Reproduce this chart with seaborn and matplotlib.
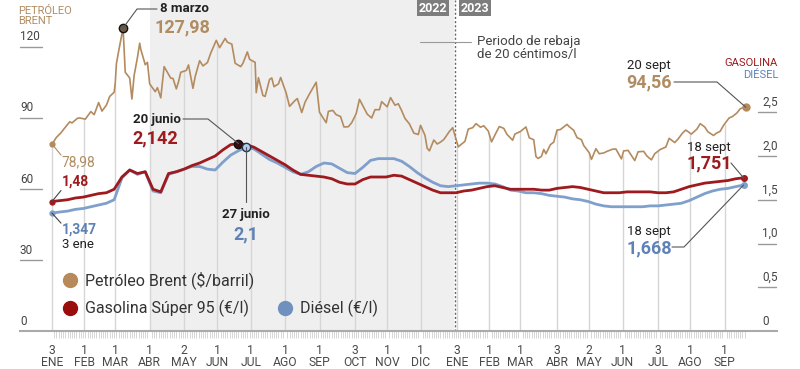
import numpy as np
import pandas as pd
import matplotlib
matplotlib.use("Agg")
import matplotlib.pyplot as plt
import matplotlib.dates as mdates
import matplotlib.transforms as mtransforms
from matplotlib.lines import Line2D
import seaborn as sns

sns.set_theme(style="white")
plt.rcParams["font.family"] = ["Roboto", "DejaVu Sans"]

# ---------------- DATA ----------------
brent_dates = [
    "2022-01-03", "2022-01-07", "2022-01-11", "2022-01-14", "2022-01-19", "2022-01-21", "2022-01-26", "2022-01-28",
    "2022-02-02", "2022-02-07", "2022-02-10", "2022-02-14", "2022-02-17", "2022-02-21", "2022-02-24", "2022-02-28",
    "2022-03-01", "2022-03-02", "2022-03-04", "2022-03-08", "2022-03-10", "2022-03-14", "2022-03-16", "2022-03-18",
    "2022-03-21", "2022-03-23", "2022-03-24", "2022-03-28", "2022-03-30", "2022-04-01", "2022-04-06", "2022-04-08",
    "2022-04-11", "2022-04-14", "2022-04-20", "2022-04-22", "2022-04-25", "2022-04-27", "2022-04-29", "2022-05-04",
    "2022-05-06", "2022-05-10", "2022-05-12", "2022-05-16", "2022-05-19", "2022-05-23", "2022-05-26", "2022-05-31",
    "2022-06-03", "2022-06-08", "2022-06-10", "2022-06-14", "2022-06-17", "2022-06-22", "2022-06-24", "2022-06-28",
    "2022-06-30", "2022-07-05", "2022-07-06", "2022-07-08", "2022-07-12", "2022-07-14", "2022-07-18", "2022-07-20",
    "2022-07-22", "2022-07-26", "2022-07-28", "2022-08-02", "2022-08-05", "2022-08-10", "2022-08-12", "2022-08-16",
    "2022-08-19", "2022-08-23", "2022-08-29", "2022-09-01", "2022-09-07", "2022-09-09", "2022-09-13", "2022-09-16",
    "2022-09-20", "2022-09-23", "2022-09-27", "2022-09-30", "2022-10-04", "2022-10-07", "2022-10-11", "2022-10-14",
    "2022-10-18", "2022-10-21", "2022-10-25", "2022-10-27", "2022-11-01", "2022-11-04", "2022-11-08", "2022-11-11",
    "2022-11-14", "2022-11-17", "2022-11-21", "2022-11-25", "2022-11-29", "2022-12-01", "2022-12-05", "2022-12-07",
    "2022-12-09", "2022-12-13", "2022-12-16", "2022-12-19", "2022-12-22", "2022-12-27", "2022-12-30",
    "2023-01-04", "2023-01-06", "2023-01-10", "2023-01-13", "2023-01-17", "2023-01-20", "2023-01-24", "2023-01-27",
    "2023-01-31", "2023-02-03", "2023-02-07", "2023-02-10", "2023-02-14", "2023-02-17", "2023-02-22", "2023-02-24",
    "2023-03-01", "2023-03-06", "2023-03-09", "2023-03-13", "2023-03-15", "2023-03-17", "2023-03-20", "2023-03-22",
    "2023-03-24", "2023-03-28", "2023-03-31", "2023-04-03", "2023-04-06", "2023-04-12", "2023-04-14", "2023-04-18",
    "2023-04-21", "2023-04-25", "2023-04-27", "2023-05-02", "2023-05-04", "2023-05-08", "2023-05-11", "2023-05-15",
    "2023-05-18", "2023-05-23", "2023-05-26", "2023-05-31", "2023-06-02", "2023-06-06", "2023-06-12", "2023-06-15",
    "2023-06-20", "2023-06-23", "2023-06-27", "2023-06-30", "2023-07-05", "2023-07-10", "2023-07-13", "2023-07-18",
    "2023-07-21", "2023-07-25", "2023-07-28", "2023-08-02", "2023-08-07", "2023-08-10", "2023-08-14", "2023-08-17",
    "2023-08-22", "2023-08-24", "2023-08-28", "2023-08-31", "2023-09-05", "2023-09-08", "2023-09-12", "2023-09-15",
    "2023-09-18", "2023-09-19", "2023-09-20",
]
brent_values = [
    78.98, 81.8, 83.7, 85.5, 88.4, 87.9, 89.9, 90.0,
    89.5, 92.7, 91.4, 96.5, 92.9, 95.4, 99.1, 100.9,
    104.9, 112.9, 118.1, 127.98, 109.3, 106.9, 98.0, 108.0,
    115.6, 121.6, 119.0, 112.5, 113.5, 104.4, 101.1, 102.8,
    98.5, 111.7, 106.8, 106.7, 102.3, 105.3, 109.3, 110.1,
    112.4, 102.5, 107.5, 114.2, 112.0, 113.4, 117.4, 122.8,
    119.7, 123.6, 122.0, 121.2, 113.1, 111.7, 113.1, 117.9,
    114.8, 113.5, 100.7, 107.0, 99.5, 99.1, 106.3, 106.9,
    103.2, 104.4, 107.1, 100.5, 94.9, 97.4, 98.2, 92.3,
    96.7, 100.2, 105.1, 92.4, 88.0, 92.8, 93.2, 91.4,
    90.6, 86.2, 86.3, 88.0, 91.8, 97.9, 94.3, 91.6,
    90.0, 93.5, 93.5, 96.9, 94.7, 98.6, 95.4, 96.0,
    93.1, 89.8, 87.5, 83.6, 83.0, 86.9, 82.7, 77.2,
    76.1, 80.7, 79.0, 79.8, 80.9, 84.3, 85.9,
    77.8, 78.6, 80.1, 85.3, 85.9, 87.6, 86.1, 86.7,
    84.5, 79.9, 83.7, 86.4, 85.6, 83.0, 80.6, 83.2,
    84.3, 86.2, 81.6, 80.8, 73.7, 72.9, 73.8, 76.7,
    74.9, 78.7, 79.8, 84.9, 85.1, 87.3, 86.3, 84.8,
    81.7, 80.8, 78.4, 75.3, 72.5, 77.0, 74.9, 75.2,
    75.9, 76.8, 76.9, 72.7, 76.1, 76.3, 72.0, 75.7,
    75.9, 73.9, 72.3, 74.9, 76.7, 77.7, 81.4, 79.6,
    81.1, 83.6, 84.9, 83.2, 85.3, 87.6, 86.2, 84.1,
    82.6, 83.4, 84.4, 86.9, 90.0, 90.6, 92.1, 93.9,
    94.4, 95.4, 94.56,
]

# weekly fuel prices (Mondays, 2022-01-03 ... 2023-09-18)
fuel_dates = pd.date_range("2022-01-03", periods=90, freq="7D")
gasolina_values = [
    1.480, 1.49, 1.50, 1.52, 1.53,
    1.55, 1.57, 1.58, 1.62,
    1.76, 1.84, 1.80, 1.82,
    1.62, 1.59, 1.80, 1.82,
    1.85, 1.89, 1.92, 1.96, 2.00,
    2.07, 2.13, 2.142, 2.13,
    2.10, 2.05, 2.00, 1.95,
    1.90, 1.84, 1.79, 1.78, 1.77,
    1.76, 1.74, 1.70, 1.68,
    1.68, 1.73, 1.76, 1.76, 1.76,
    1.78, 1.77, 1.73, 1.69,
    1.65, 1.61, 1.58, 1.58,
    1.58, 1.60, 1.61, 1.63, 1.65,
    1.66, 1.64, 1.62, 1.62,
    1.62, 1.62, 1.61, 1.61,
    1.63, 1.64, 1.65, 1.64,
    1.62, 1.60, 1.58, 1.58, 1.58,
    1.59, 1.59, 1.59, 1.59,
    1.58, 1.58, 1.59, 1.62, 1.65,
    1.67, 1.69, 1.70, 1.71,
    1.72, 1.74, 1.751,
]
diesel_values = [
    1.347, 1.36, 1.37, 1.39, 1.40,
    1.42, 1.44, 1.46, 1.50,
    1.75, 1.84, 1.79, 1.82,
    1.60, 1.58, 1.79, 1.82,
    1.85, 1.88, 1.88, 1.85, 1.84,
    1.93, 2.01, 2.06, 2.10,
    2.08, 2.02, 1.96, 1.92,
    1.87, 1.82, 1.79, 1.82, 1.88,
    1.92, 1.91, 1.86, 1.81,
    1.80, 1.87, 1.95, 1.97, 1.97,
    1.97, 1.94, 1.88, 1.81,
    1.75, 1.70, 1.66, 1.65,
    1.66, 1.67, 1.68, 1.69, 1.69,
    1.68, 1.65, 1.61, 1.60,
    1.58, 1.58, 1.57, 1.55,
    1.54, 1.53, 1.51, 1.50,
    1.48, 1.45, 1.43, 1.42, 1.42,
    1.42, 1.42, 1.42, 1.43,
    1.43, 1.44, 1.45, 1.46, 1.49,
    1.53, 1.57, 1.60, 1.62,
    1.63, 1.65, 1.668,
]

tick_dates = ["2022-01-03", "2022-02-01", "2022-03-01", "2022-04-01", "2022-05-02", "2022-06-01",
              "2022-07-01", "2022-08-01", "2022-09-01", "2022-10-03", "2022-11-01", "2022-12-01",
              "2023-01-03", "2023-02-01", "2023-03-01", "2023-04-03", "2023-05-02", "2023-06-01",
              "2023-07-03", "2023-08-01", "2023-09-01"]
tick_days = ["3", "1", "1", "1", "2", "1", "1", "1", "1", "3", "1", "1",
             "3", "1", "1", "3", "2", "1", "3", "1", "1"]
tick_months = ["ENE", "FEB", "MAR", "ABR", "MAY", "JUN", "JUL", "AGO", "SEP", "OCT", "NOV", "DIC",
               "ENE", "FEB", "MAR", "ABR", "MAY", "JUN", "JUL", "AGO", "SEP"]

brent_ticks = [0, 30, 60, 90, 120]
brent_tick_labels = ["0", "30", "60", "90", "120"]
fuel_ticks = [0, 0.5, 1.0, 1.5, 2.0, 2.5]
fuel_tick_labels = ["0", "0,5", "1,0", "1,5", "2,0", "2,5"]

series_names = ["Petróleo Brent ($/barril)", "Gasolina Súper 95 (€/l)", "Diésel (€/l)"]

rebaja_start, rebaja_end = "2022-04-01", "2022-12-31"
year_split = "2023-01-01"

# ---------------- STYLE ----------------
C_BRENT = "#b38b5f"
C_BRENT_TXT = "#b08c62"
C_GAS = "#9e1a1e"
C_DIE = "#7f9fcc"
C_DIE_TXT = "#5f82b6"
C_DARK = "#222222"

W, H = 800, 369
PX_PER_DAY = 1.11
fig = plt.figure(figsize=(W / 100, H / 100), dpi=100)
fig.patch.set_facecolor("white")
ax = fig.add_axes([20 / W, 38 / H, 757 / W, 331 / H])
ax2 = ax.twinx()

brent_df = pd.DataFrame({"fecha": pd.to_datetime(brent_dates), "valor": brent_values})
gas_df = pd.DataFrame({"fecha": fuel_dates, "valor": gasolina_values})
die_df = pd.DataFrame({"fecha": fuel_dates, "valor": diesel_values})

t0 = pd.Timestamp("2022-01-03")
xmin = t0 - pd.Timedelta(days=32 / PX_PER_DAY)
xmax = t0 + pd.Timedelta(days=725 / PX_PER_DAY)

# background period
ax.axvspan(pd.Timestamp(rebaja_start), pd.Timestamp(rebaja_end), color="#efefef", zorder=0, lw=0)

# vertical drop lines at month ticks up to brent
tk = pd.to_datetime(tick_dates)
bx = mdates.date2num(brent_df["fecha"])
tx = mdates.date2num(tk)
ax.vlines(tk, 0, np.interp(tx, bx, brent_df["valor"]), color="#d6d6d6", lw=1, zorder=1)

sns.lineplot(data=brent_df, x="fecha", y="valor", ax=ax, color=C_BRENT, lw=1.2, zorder=3)
sns.lineplot(data=die_df, x="fecha", y="valor", ax=ax2, color=C_DIE, lw=2, zorder=3)
sns.lineplot(data=gas_df, x="fecha", y="valor", ax=ax2, color=C_GAS, lw=2, zorder=4)

ax.axvline(pd.Timestamp(year_split), color="#666666", lw=1, ls=(0, (1.5, 1.5)), zorder=2)

ax.set_xlim(xmin, xmax)
ax.set_ylim(0, 331 / 2.367)
ax2.set_ylim(0, 331 / 87.5)

for a in (ax, ax2):
    a.set_xlabel("")
    a.set_ylabel("")
    for s in a.spines.values():
        s.set_visible(False)
    a.tick_params(left=False, right=False, labelleft=False, labelright=False)
ax.spines["bottom"].set_visible(True)
ax.spines["bottom"].set_color("#aaaaaa")
ax.spines["bottom"].set_linewidth(1.5)

ax.set_xticks(tk)
ax.set_xticklabels([f"{d}\n{m}" for d, m in zip(tick_days, tick_months)])
ax.set_xticks(pd.date_range(brent_dates[0], brent_dates[-1], freq="2D"), minor=True)
ax.tick_params(axis="x", which="major", length=0, pad=9, labelsize=8.7, labelcolor="#4a4a4a")
ax.tick_params(axis="x", which="minor", length=5, width=0.6, color="#d0d0d0", direction="out", bottom=True)
for lbl in ax.get_xticklabels():
    lbl.set_linespacing(0.95)

# y tick labels (custom, with underline)
tl = mtransforms.blended_transform_factory(ax.transAxes, ax.transData)
for v, s in zip(brent_ticks, brent_tick_labels):
    if v > 0:
        ax.plot([0, 22 / 757], [v, v], transform=tl, color="#999999", lw=1, clip_on=False)
    ax.annotate(s, (0, v), xycoords=tl, xytext=(0, 2.5), textcoords="offset points",
                fontsize=8.5, color="#444444", va="bottom", ha="left")
tr = mtransforms.blended_transform_factory(ax2.transAxes, ax2.transData)
for v, s in zip(fuel_ticks, fuel_tick_labels):
    if v > 0:
        ax2.plot([738 / 757, 756 / 757], [v, v], transform=tr, color="#999999", lw=1, clip_on=False)
    ax2.annotate(s, (742 / 757, v), xycoords=tr, xytext=(0, 2.5), textcoords="offset points",
                 fontsize=8.5, color="#444444", va="bottom", ha="left")


# ---------------- helpers ----------------
def dpx(a, d, v):
    x, y = a.transData.transform((mdates.date2num(pd.Timestamp(d)), v))
    return x, H - y


def ftext(x, y, s, **kw):
    fig.text(x / W, 1 - y / H, s, **kw)


def fline(pts, color="#555555", lw=0.8):
    fig.add_artist(Line2D([p[0] / W for p in pts], [1 - p[1] / H for p in pts],
                          transform=fig.transFigure, color=color, lw=lw, zorder=6))


def dot(a, d, v, face, edge, ms):
    a.plot([pd.Timestamp(d)], [v], marker="o", ms=ms, mfc=face, mec=edge, mew=1, zorder=7, clip_on=False)


# year boxes
ftext(433, 8, "2022", ha="center", va="center", fontsize=9, color="white", fontweight="bold",
      bbox=dict(boxstyle="square,pad=0.15", fc="#7d7d7d", ec="none"))
ftext(475, 8, "2023", ha="center", va="center", fontsize=9, color="white", fontweight="bold",
      bbox=dict(boxstyle="square,pad=0.15", fc="#7d7d7d", ec="none"))

# rebaja annotation
fline([(420, 42), (471, 42)], color="#999999", lw=0.8)
ftext(477, 48, "Periodo de rebaja\nde 20 céntimos/l", ha="left", va="center", fontsize=9.5,
      color="#444444", linespacing=1.0)

# axis titles
ftext(18, 16, "PETRÓLEO\nBRENT", ha="left", va="center", fontsize=8, color=C_BRENT_TXT, linespacing=0.95)
ftext(778, 63, "GASOLINA", ha="right", va="center", fontsize=8, color=C_GAS)
ftext(778, 75, "DIÉSEL", ha="right", va="center", fontsize=8, color=C_DIE_TXT)

# peak Brent
pk_i = int(np.argmax(brent_values))
pk_d, pk_v = brent_dates[pk_i], brent_values[pk_i]
px_, py_ = dpx(ax, pk_d, pk_v)
fline([(px_, py_), (px_ + 14, 9), (157, 9)])
dot(ax, pk_d, pk_v, "#6b5a45", "#111111", 6)
ftext(160, 9, "8 marzo", ha="left", va="center", fontsize=9.5, color=C_DARK, fontweight="bold")
ftext(155, 27, "127,98", ha="left", va="center", fontsize=13, color=C_BRENT_TXT, fontweight="bold")

# gasoline peak
g_i = int(np.argmax(gasolina_values))
gx, gy = dpx(ax2, fuel_dates[g_i], gasolina_values[g_i])
fline([(183, 119), (208, 119), (gx, gy)])
dot(ax2, fuel_dates[g_i], gasolina_values[g_i], "#3b0d0d", "#111111", 6)
ftext(133, 119, "20 junio", ha="left", va="center", fontsize=9.5, color=C_DARK, fontweight="bold")
ftext(132, 138, "2,142", ha="left", va="center", fontsize=13, color=C_GAS, fontweight="bold")

# diesel peak
d_i = int(np.argmax(diesel_values))
ex, ey = dpx(ax2, fuel_dates[d_i], diesel_values[d_i])
fline([(ex, ey), (ex, 202)])
dot(ax2, fuel_dates[d_i], diesel_values[d_i], "#b8cbe6", "#1f3556", 6)
ftext(ex, 214, "27 junio", ha="center", va="center", fontsize=9.5, color=C_DARK, fontweight="bold")
ftext(ex, 234, "2,1", ha="center", va="center", fontsize=13, color=C_DIE_TXT, fontweight="bold")

# start values
sx, sy = dpx(ax, brent_dates[0], brent_values[0])
fline([(sx, sy), (sx + 9, sy + 11)], color=C_BRENT)
dot(ax, brent_dates[0], brent_values[0], C_BRENT, C_BRENT, 3.5)
ftext(62, 162, "78,98", ha="left", va="center", fontsize=10, color=C_BRENT_TXT)

sx, sy = dpx(ax2, fuel_dates[0], gasolina_values[0])
fline([(sx, sy), (sx + 9, sy - 11)], color="#444444")
dot(ax2, fuel_dates[0], gasolina_values[0], C_GAS, C_GAS, 3.5)
ftext(62, 182, "1,48", ha="left", va="center", fontsize=10, color=C_GAS, fontweight="bold")

sx, sy = dpx(ax2, fuel_dates[0], diesel_values[0])
fline([(sx, sy), (sx + 9, sy + 10)], color="#444444")
dot(ax2, fuel_dates[0], diesel_values[0], C_DIE, C_DIE, 3.5)
ftext(62, 230, "1,347", ha="left", va="center", fontsize=10, color=C_DIE_TXT, fontweight="bold")
ftext(62, 244, "3 ene", ha="left", va="center", fontsize=9.5, color=C_DARK)

# end values
ex_, ey_ = dpx(ax, brent_dates[-1], brent_values[-1])
fline([(674, 82), (717, 82), (ex_, ey_)])
dot(ax, brent_dates[-1], brent_values[-1], C_BRENT, C_BRENT, 5)
ftext(627, 65, "20 sept", ha="left", va="center", fontsize=9.5, color=C_DARK)
ftext(626, 82, "94,56", ha="left", va="center", fontsize=13, color=C_BRENT_TXT, fontweight="bold")

gx_, gy_ = dpx(ax2, fuel_dates[-1], gasolina_values[-1])
fline([(731, 163), (gx_, gy_)])
dot(ax2, fuel_dates[-1], gasolina_values[-1], C_GAS, C_GAS, 4)
ftext(687, 147, "18 sept", ha="left", va="center", fontsize=9.5, color=C_DARK)
ftext(686, 163, "1,751", ha="left", va="center", fontsize=13, color=C_GAS, fontweight="bold")

dx_, dy_ = dpx(ax2, fuel_dates[-1], diesel_values[-1])
fline([(672, 247), (684, 247), (dx_, dy_)])
dot(ax2, fuel_dates[-1], diesel_values[-1], C_DIE, C_DIE, 4)
ftext(627, 231, "18 sept", ha="left", va="center", fontsize=9.5, color=C_DARK)
ftext(626, 248, "1,668", ha="left", va="center", fontsize=13, color=C_DIE_TXT, fontweight="bold")

# legend (manual)
leg_items = [(70, 280, series_names[0], "#b8895a"),
             (70, 308, series_names[1], "#990d0d"),
             (285, 308, series_names[2], "#7091c0")]
for x, y, lab, col in leg_items:
    fig.add_artist(Line2D([x / W], [1 - y / H], marker="o", ms=10, mfc=col, mec=col,
                          transform=fig.transFigure, ls="none"))
    ftext(x + 15, y, lab, ha="left", va="center", fontsize=11.5, color="#333333")

fig.savefig("out.png", dpi=100)
